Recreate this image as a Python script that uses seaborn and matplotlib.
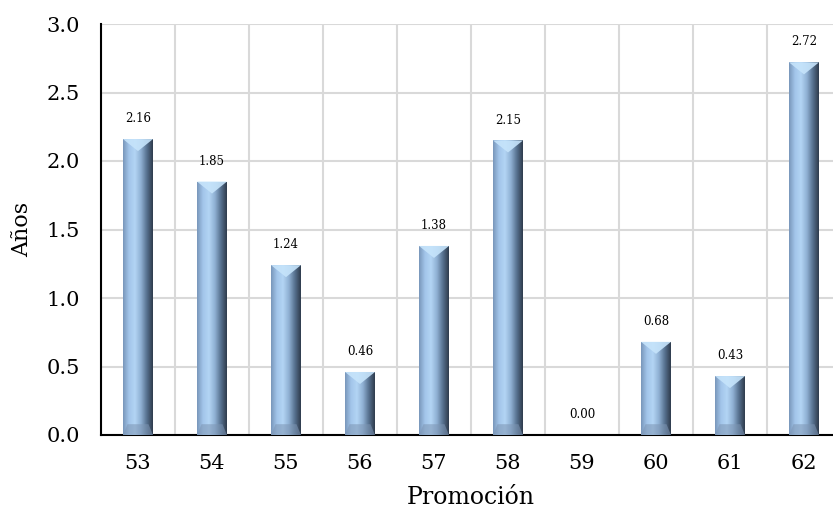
"""Bar chart of average years per promotion, bevelled blue bars."""
import matplotlib.pyplot as plt
import numpy as np
import pandas as pd
import seaborn as sns
from matplotlib.colors import LinearSegmentedColormap
from matplotlib.patches import Polygon

promociones = ["53", "54", "55", "56", "57", "58", "59", "60", "61", "62"]
anios = [2.16, 1.85, 1.24, 0.46, 1.38, 2.15, 0.00, 0.68, 0.43, 2.72]

sns.set_style("white")
plt.rcParams["font.family"] = ["DejaVu Serif"]
plt.rcParams.update({"text.color": "black", "axes.labelcolor": "black",
                     "xtick.color": "black", "ytick.color": "black"})

df = pd.DataFrame({"Promoción": promociones, "Años": anios})

fig = plt.figure(figsize=(8.33, 5.09), dpi=100)
ax = fig.add_axes([101 / 833, 1 - 435 / 509, 740 / 833, 411 / 509])

sns.barplot(data=df, x="Promoción", y="Años", width=0.405, color="#8db3e2",
            ax=ax, zorder=3)

# horizontal gradient across each bar to fake the bevel
body = LinearSegmentedColormap.from_list(
    "bevel", ["#7896ba", "#a2c5ea", "#b3d5f4", "#8fb0d3", "#56708e", "#2e3b4c"])
grad = np.linspace(0, 1, 256).reshape(1, -1)
dy = 12 / 137  # bevel depth in data units
for p, v in zip(ax.patches, anios):
    if v <= 0:
        p.set_visible(False)
        continue
    x0, w = p.get_x(), p.get_width()
    p.set_facecolor("none")
    p.set_edgecolor("none")
    im = ax.imshow(grad, cmap=body, aspect="auto", zorder=3,
                   extent=(x0, x0 + w, 0, v))
    im.set_clip_path(p)
    d = min(dy, v / 2)
    ax.add_patch(Polygon([(x0, v), (x0 + w, v), (x0 + w / 2, v - d)],
                         closed=True, facecolor="#c6e4fb", edgecolor="none",
                         alpha=0.9, zorder=4))
    ax.add_patch(Polygon([(x0, 0), (x0 + w, 0), (x0 + w * 0.85, d * 0.9),
                          (x0 + w * 0.15, d * 0.9)],
                         closed=True, facecolor="#7d95b3", edgecolor="none",
                         alpha=0.55, zorder=4))

for i, v in enumerate(anios):
    ax.annotate(f"{v:.2f}", (i, v), xytext=(0, 10), textcoords="offset points",
                ha="center", va="bottom", fontsize=8.5, zorder=5)

ax.set_xlim(-0.5, 9.5)
ax.set_ylim(0, 3.0)
ax.set_yticks(np.arange(0, 3.01, 0.5))
ax.set_yticklabels([f"{t:.1f}" for t in np.arange(0, 3.01, 0.5)])

# ticks between categories, labels centred under bars
ax.set_xticks(np.arange(-0.5, 10, 1))
ax.set_xticklabels([])
ax.set_xticks(np.arange(10), minor=True)
ax.set_xticklabels(promociones, minor=True)
ax.tick_params(axis="x", which="major", direction="out", length=7, width=1.3)
ax.tick_params(axis="x", which="minor", length=0, pad=14, labelsize=15)
ax.tick_params(axis="y", direction="out", length=6, width=1.3,
               labelsize=15, pad=9)

ax.grid(True, which="major", color="#d9d9d9", lw=1.5, zorder=0)
ax.set_axisbelow(True)
for s in ["top", "right"]:
    ax.spines[s].set_visible(False)
for s in ["left", "bottom"]:
    ax.spines[s].set_color("black")
    ax.spines[s].set_linewidth(1.5)

ax.set_xlabel("Promoción", fontsize=17, labelpad=9)
ax.set_ylabel("Años", fontsize=16, labelpad=10)

fig.savefig("out.png", dpi=100)
